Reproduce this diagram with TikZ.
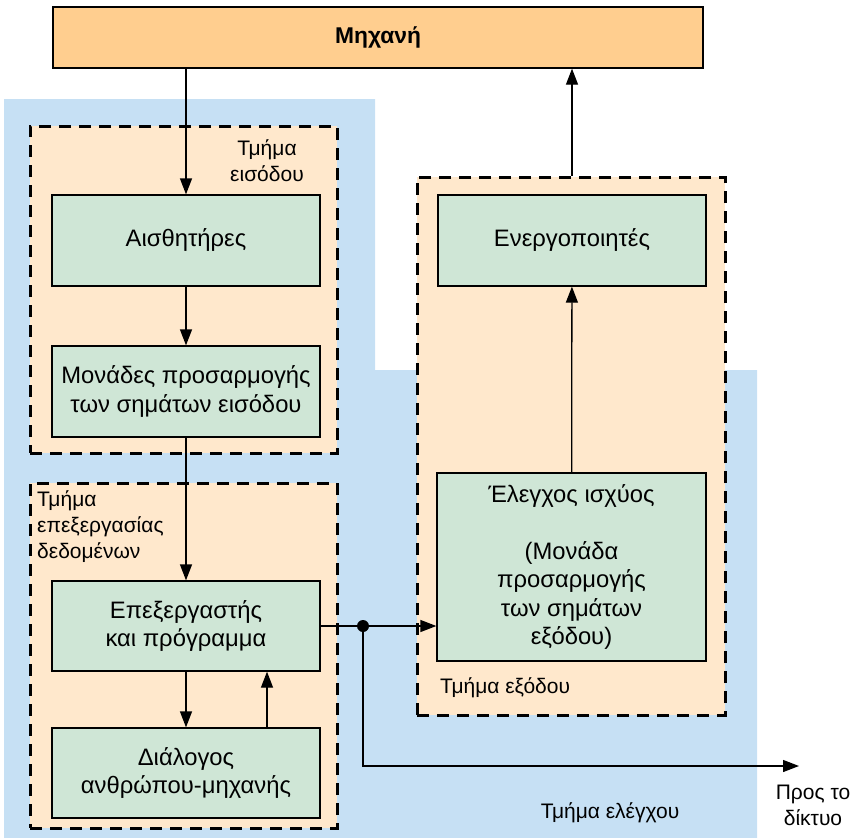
\documentclass[tikz,border=0pt]{standalone}
\usepackage{fontspec}
\setmainfont{Liberation Sans}
\usetikzlibrary{arrows.meta}
\definecolor{MachineOr}{HTML}{FFCE8F}
\definecolor{PartOr}{HTML}{FFE8CC}
\definecolor{CtrlBlue}{HTML}{C6E0F4}
\definecolor{UnitGreen}{HTML}{CFE6D6}
\tikzset{
  unit/.style={draw, line width=1.3pt, fill=UnitGreen, minimum width=268pt, minimum height=91pt, align=center, inner sep=0pt, font=\fontsize{23.8}{28.5}\selectfont},
  part/.style={draw, line width=3pt, dash pattern=on 12pt off 8pt, fill=PartOr, inner sep=0pt},
  flow/.style={line width=1.3pt, -{Triangle[length=16pt,width=12pt]}},
  dot/.style={circle, fill=black, minimum size=12pt, inner sep=0pt},
}
\begin{document}
\begin{tikzpicture}[x=1pt, y=-1pt, font=\fontsize{21}{26}\selectfont]
        \useasboundingbox (0,0) rectangle (852,838);
        %Tmima elegxou
        \fill[CtrlBlue] (4,99)--(375,99)--(375,370)--(757,370)--(757,838)--(4,838)--cycle;
        %Plaisia
        \node[part, minimum width=307pt, minimum height=327pt] (inframe) at (183.5,289.5) {};
        \node[part, minimum width=307pt, minimum height=345pt] (dataframe) at (183.5,655.5) {};
        \node[part, minimum width=308pt, minimum height=538pt] (outframe) at (571,446) {};
        %Monades
        \node[draw, line width=1.3pt, fill=MachineOr, minimum width=650pt, minimum height=61pt, font=\fontsize{22.8}{27}\selectfont\bfseries] (machine) at (378,37.5) {Μηχανή};
        \node[unit] (sensors) at (186,240.5) {Αισθητήρες};
        \node[unit] (adapt) at (186,391.5) {Μονάδες προσαρμογής\\των σημάτων εισόδου};
        \node[unit, minimum height=90pt] (proc) at (186,626) {Επεξεργαστής\\και πρόγραμμα};
        \node[unit, minimum height=90pt] (dialog) at (186,773) {Διάλογος\\ανθρώπου-μηχανής};
        \node[unit] (act) at (572,240.5) {Ενεργοποιητές};
        \node[unit, minimum width=269pt, minimum height=188pt] (power) at (571.5,567) {Έλεγχος ισχύος\\[28.5pt](Μονάδα\\προσαρμογής\\των σημάτων\\εξόδου)};
        %Syndeseis
        \node[dot] (jn) at (363,626) {};
        \coordinate (net) at (799,766);
        \draw[flow] (machine.south -| sensors.north) -- (sensors.north);
        \draw[flow] (sensors) -- (adapt);
        \draw[flow] (adapt) -- (proc);
        \draw[flow] (proc) -- (dialog);
        \draw[flow] ([xshift=81pt]dialog.north) -- ([xshift=81pt]proc.south);
        \draw[line width=1.3pt] (proc.east) -- (jn);
        \draw[flow] (jn) -- (power.west |- jn);
        \draw[flow] (jn) |- (net);
        \draw[flow] (power) -- (act);
        \draw[flow] (outframe.north -| act) -- (machine.south -| act);
        %Etiketes
        \node[align=center] (inlabel) at (267,161) {Τμήμα\\εισόδου};
        \node[align=left, anchor=north west, inner sep=0pt] (datalabel) at (37,490) {Τμήμα\\επεξεργασίας\\δεδομένων};
        \node[anchor=west, inner sep=0pt] (outlabel) at (440,688) {Τμήμα εξόδου};
        \node (ctrllabel) at (610,813) {Τμήμα ελέγχου};
        \node[align=center] (netlabel) at (813,805) {Προς το\\δίκτυο};
\end{tikzpicture}
\end{document}
